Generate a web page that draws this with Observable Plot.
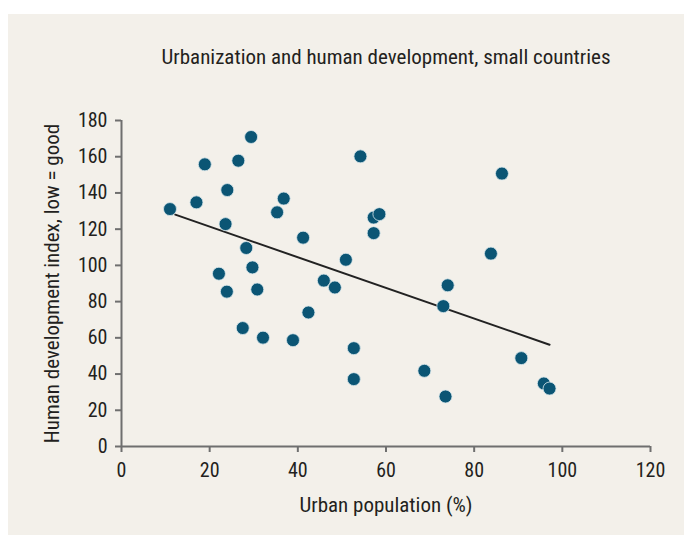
<!DOCTYPE html>
<html>
<head>
<meta charset="utf-8">
<script src="https://cdn.jsdelivr.net/npm/d3@7"></script>
<script src="https://cdn.jsdelivr.net/npm/@observablehq/plot@0.6"></script>
<style>
  html, body { margin: 0; padding: 0; background: #ffffff; }
  #panel { position: absolute; left: 8px; top: 14px; width: 676px; height: 521px; background: #f3f0ea; }
  #panel svg { background: transparent; }
</style>
</head>
<body>
<div id="panel"></div>
<script>
const title = "Urbanization and human development, small countries";
const xLabel = "Urban population (%)";
const yLabel = "Human development index, low = good";

const urban = [11.0, 17.0, 18.9, 24.0, 23.6, 22.1, 23.9, 26.5, 28.3, 29.4, 29.7, 30.8, 27.5, 32.1, 35.3, 36.8, 38.9, 41.2, 42.4, 45.9, 48.4, 50.9, 52.7, 52.7, 54.2, 57.2, 58.5, 57.2, 68.7, 73.5, 73.0, 74.0, 83.8, 86.3, 90.7, 95.8, 97.1];
const hdi   = [131.1, 134.8, 155.8, 141.6, 122.8, 95.4, 85.5, 157.8, 109.6, 170.9, 98.9, 86.7, 65.4, 60.1, 129.3, 136.9, 58.7, 115.3, 74.0, 91.6, 87.8, 103.1, 54.3, 37.2, 160.2, 126.4, 128.3, 117.8, 41.8, 27.6, 77.5, 89.0, 106.5, 150.7, 48.8, 34.8, 32.0];

const trendX = [12.2, 97.1];
const trendY = [128.0, 56.2];

const xTicks = [0, 20, 40, 60, 80, 100, 120];
const yTicks = [0, 20, 40, 60, 80, 100, 120, 140, 160, 180];

const points = urban.map((u, i) => ({x: u, y: hdi[i]}));
const trend = trendX.map((t, i) => ({x: t, y: trendY[i]}));

const font = "'Roboto Condensed', Roboto, 'DejaVu Sans', sans-serif";
const ink = "#231f20";
const axisColor = "#6f6f6f";

const chart = Plot.plot({
  width: 676,
  height: 521,
  marginLeft: 113,
  marginRight: 34,
  marginTop: 106,
  marginBottom: 89,
  style: {fontFamily: font, fontSize: "20px", color: ink, background: "transparent"},
  x: {domain: [0, 120], ticks: xTicks},
  y: {domain: [0, 180], ticks: yTicks},
  marks: [
    Plot.axisX(xTicks, {tickSize: 6, tickPadding: 10, stroke: axisColor, strokeWidth: 2, fill: ink, fontSize: 20, label: null}),
    Plot.axisY(yTicks, {tickSize: 6, tickPadding: 8, stroke: axisColor, strokeWidth: 2, fill: ink, fontSize: 20, label: null}),
    Plot.ruleY([0], {x1: 0, x2: 120, stroke: axisColor, strokeWidth: 2}),
    Plot.ruleX([0], {y1: 0, y2: 180, stroke: axisColor, strokeWidth: 2}),
    Plot.line(trend, {x: "x", y: "y", stroke: "#222222", strokeWidth: 2}),
    Plot.dot(points, {x: "x", y: "y", r: 6.5, fill: "#0b5574", stroke: "#dbe8ec", strokeWidth: 0.8}),
    Plot.text([title], {frameAnchor: "top", dy: -63, lineAnchor: "middle", textAnchor: "middle", fontSize: 21, fill: ink, text: d => d}),
    Plot.text([xLabel], {frameAnchor: "bottom", dy: 59, lineAnchor: "middle", textAnchor: "middle", fontSize: 21, fill: ink, text: d => d}),
    Plot.text([yLabel], {frameAnchor: "left", dx: -69, rotate: -90, lineAnchor: "middle", textAnchor: "middle", fontSize: 21, fill: ink, text: d => d})
  ]
});
document.getElementById("panel").appendChild(chart);
</script>
</body>
</html>
